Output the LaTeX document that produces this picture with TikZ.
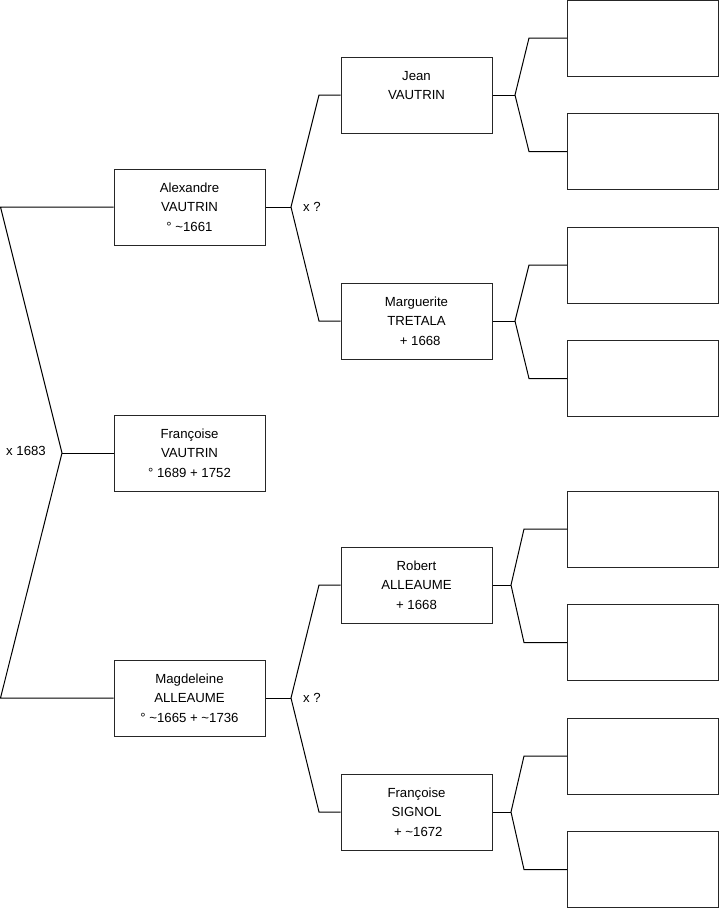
\documentclass[tikz,border=0pt]{standalone}
\usepackage{fontspec}
\setmainfont{Liberation Sans}
\begin{document}
\begin{tikzpicture}[x=1pt,y=-1pt,
  person/.style={draw=black!85, line width=1pt, minimum width=151pt, minimum height=76pt,
    inner sep=0pt, align=center, font=\fontsize{13.2}{19.5}\selectfont, fill=white},
  empty/.style={person},
  link/.style={draw=black, line width=1pt},
  lbl/.style={font=\fontsize{13.2}{15}\selectfont, inner sep=0pt}]
\useasboundingbox (0,0) rectangle (719,908);
% generation 1 and 2
\node[person] (alex) at (189.5,207) {Alexandre\\VAUTRIN\\° \textasciitilde1661};
\node[person] (fran) at (189.5,453) {Françoise\\VAUTRIN\\° 1689 + 1752};
\node[person] (magd) at (189.5,698) {Magdeleine\\ALLEAUME\\° \textasciitilde1665 + \textasciitilde1736};
% generation 3
\node[person] (jean) at (416.5,95) {Jean\\VAUTRIN\\\phantom{1}};
\node[person] (marg) at (416.5,321) {Marguerite\\TRETALA\\\ \ + 1668};
\node[person] (robe) at (416.5,585) {Robert\\ALLEAUME\\+ 1668};
\node[person] (sign) at (416.5,812) {Françoise\\SIGNOL\\\ + \textasciitilde1672};
% generation 4
\node[empty] (e1) at (643,38) {};
\node[empty] (e2) at (643,151.5) {};
\node[empty] (e3) at (643,265) {};
\node[empty] (e4) at (643,378.5) {};
\node[empty] (e5) at (643,529) {};
\node[empty] (e6) at (643,642.5) {};
\node[empty] (e7) at (643,756) {};
\node[empty] (e8) at (643,869.5) {};
% left bracket
\coordinate (L1) at (0.5,207);
\coordinate (L2) at (62,453);
\coordinate (L3) at (0.5,698);
\draw[link] (alex.west) -- (L1) -- (L2) -- (L3) -- (magd.west);
\draw[link] (L2) -- (fran.west);
\node[lbl] (m1) at (26,451) {x 1683};
% Alexandre fork
\coordinate (fa) at (291,207);
\coordinate (fat) at (319,95);
\coordinate (fab) at (319,321);
\draw[link] (jean.west) -- (fat) -- (fa) -- (fab) -- (marg.west);
\draw[link] (alex.east) -- (fa);
\node[lbl] (m2) at (312,207) {x ?};
% Magdeleine fork
\coordinate (fm) at (291,698);
\coordinate (fmt) at (319,585);
\coordinate (fmb) at (319,812);
\draw[link] (robe.west) -- (fmt) -- (fm) -- (fmb) -- (sign.west);
\draw[link] (magd.east) -- (fm);
\node[lbl] (m3) at (312,698) {x ?};
% Jean fork
\coordinate (fj) at (515,95);
\coordinate (fjt) at (529,38);
\coordinate (fjb) at (529,151.5);
\draw[link] (e1.west) -- (fjt) -- (fj) -- (fjb) -- (e2.west);
\draw[link] (jean.east) -- (fj);
% Marguerite fork
\coordinate (fg) at (515,321);
\coordinate (fgt) at (529,265);
\coordinate (fgb) at (529,378.5);
\draw[link] (e3.west) -- (fgt) -- (fg) -- (fgb) -- (e4.west);
\draw[link] (marg.east) -- (fg);
% Robert fork
\coordinate (fr) at (511,585);
\coordinate (frt) at (524,529);
\coordinate (frb) at (524,642.5);
\draw[link] (e5.west) -- (frt) -- (fr) -- (frb) -- (e6.west);
\draw[link] (robe.east) -- (fr);
% Signol fork
\coordinate (fs) at (511,812);
\coordinate (fst) at (524,756);
\coordinate (fsb) at (524,869.5);
\draw[link] (e7.west) -- (fst) -- (fs) -- (fsb) -- (e8.west);
\draw[link] (sign.east) -- (fs);
\end{tikzpicture}
\end{document}
